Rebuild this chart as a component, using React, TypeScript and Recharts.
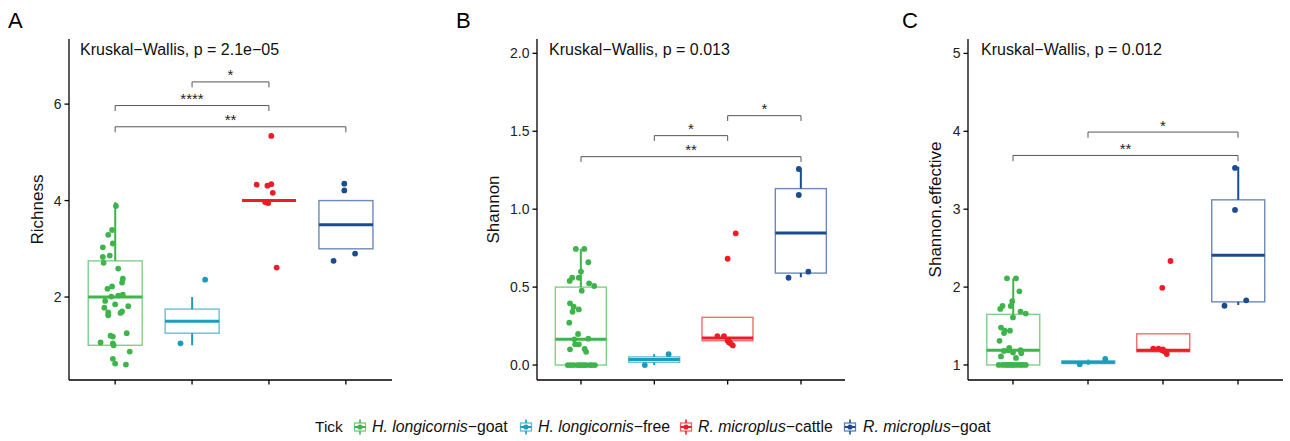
import React from 'react';
import { ComposedChart, Bar, Scatter, Line, XAxis, YAxis } from 'recharts';

const FONT = '"Liberation Sans", Arial, Helvetica, sans-serif';

const groupNames = ['H. longicornis-goat', 'H. longicornis-free', 'R. microplus-cattle', 'R. microplus-goat'];
const legendItalic = ['H. longicornis', 'H. longicornis', 'R. microplus', 'R. microplus'];
const legendSuffix = ['\u2212goat', '\u2212free', '\u2212cattle', '\u2212goat'];
const groupColors = ['#3DB54A', '#1C9CBB', '#EE1D25', '#1B4C90'];

// ---- Richness (A)
const richLo = [1.0, 1.0, 4.0, 3.0];
const richQ1 = [1.0, 1.25, 4.0, 3.0];
const richMed = [2.0, 1.5, 4.0, 3.5];
const richQ3 = [2.75, 1.75, 4.0, 4.0];
const richHi = [3.97, 2.0, 4.0, 4.0];
const richGoat = [[1.01, 3.89], [0.96, 3.39], [0.91, 3.29], [0.97, 3.11], [0.84, 3.03], [0.84, 2.83], [0.93, 2.86], [0.85, 2.71], [1.04, 2.59], [1.10, 2.38], [1.09, 2.30], [0.96, 2.22], [0.90, 2.17], [0.95, 2.01], [1.04, 2.03], [1.10, 2.05], [0.87, 1.92], [1.00, 1.85], [1.17, 1.81], [0.86, 1.78], [1.09, 1.70], [1.07, 1.67], [0.91, 1.68], [0.91, 1.62], [0.94, 1.20], [0.97, 1.18], [1.15, 1.25], [0.81, 1.06], [0.97, 1.04], [0.98, 1.00], [1.19, 0.87], [0.97, 0.72], [1.00, 0.62], [1.14, 0.60]];
const richFree = [[2.17, 2.36], [1.85, 1.04]];
const richCattle = [[3.03, 5.34], [2.84, 4.33], [2.98, 4.31], [3.03, 4.34], [3.05, 4.16], [2.95, 3.97], [2.99, 3.95], [3.10, 2.61]];
const richRGoat = [[3.98, 4.35], [3.98, 4.21], [3.84, 2.75], [4.12, 2.90]];
const richTicks = [2, 4, 6];
const richBrackets = [
  { from: 2, to: 3, y: 6.46, label: '*' },
  { from: 1, to: 3, y: 5.97, label: '****' },
  { from: 1, to: 4, y: 5.53, label: '**' },
];

// ---- Shannon (B)
const shanLo = [0.0, 0.0, 0.13, 0.563];
const shanQ1 = [0.0, 0.0175, 0.156, 0.59];
const shanMed = [0.165, 0.035, 0.173, 0.847];
const shanQ3 = [0.5, 0.0525, 0.306, 1.132];
const shanHi = [0.745, 0.07, 0.306, 1.262];
const shanGoat = [[0.93, 0.745], [1.045, 0.745], [1.10, 0.66], [1.00, 0.60], [0.845, 0.54], [0.88, 0.56], [0.97, 0.56], [1.11, 0.524], [1.18, 0.507], [1.01, 0.477], [0.85, 0.396], [0.90, 0.374], [0.885, 0.342], [0.97, 0.357], [0.84, 0.272], [0.96, 0.199], [0.91, 0.165], [1.10, 0.169], [0.92, 0.133], [0.97, 0.133], [0.85, 0.101], [1.05, 0.103], [1.07, 0.085], [0.82, 0], [0.86, 0], [0.90, 0], [0.95, 0], [0.98, 0], [1.01, 0], [1.04, 0], [1.07, 0], [1.12, 0], [1.15, 0], [1.19, 0]];
const shanFree = [[2.195, 0.07], [1.87, 0.0]];
const shanCattle = [[2.86, 0.186], [2.95, 0.186], [3.0, 0.156], [3.04, 0.139], [3.07, 0.126], [3.02, 0.15], [3.11, 0.845], [3.0, 0.682]];
const shanRGoat = [[3.97, 1.258], [3.97, 1.091], [4.10, 0.599], [3.83, 0.56]];
const shanTicks = [0, 0.5, 1, 1.5, 2];
const shanBrackets = [
  { from: 3, to: 4, y: 1.6, label: '*' },
  { from: 2, to: 3, y: 1.472, label: '*' },
  { from: 1, to: 4, y: 1.337, label: '**' },
];

// ---- Shannon.effective (C)
const effLo = [1.0, 1.0, 1.14, 1.77];
const effQ1 = [1.0, 1.0175, 1.17, 1.81];
const effMed = [1.19, 1.035, 1.19, 2.41];
const effQ3 = [1.65, 1.0525, 1.40, 3.12];
const effHi = [2.11, 1.07, 1.40, 3.545];
const effGoat = [[0.92, 2.113], [1.04, 2.113], [1.085, 1.946], [0.99, 1.82], [0.97, 1.757], [0.86, 1.757], [0.83, 1.72], [1.10, 1.685], [1.17, 1.66], [1.0, 1.61], [0.84, 1.48], [0.89, 1.44], [0.96, 1.44], [0.88, 1.41], [0.82, 1.31], [0.95, 1.22], [0.88, 1.18], [1.0, 1.16], [1.10, 1.19], [1.11, 1.15], [0.84, 1.11], [1.04, 1.09], [0.94, 1.19], [0.81, 1], [0.86, 1], [0.90, 1], [0.93, 1], [0.96, 1], [0.99, 1], [1.02, 1], [1.06, 1], [1.10, 1], [1.13, 1], [1.17, 1]];
const effFree = [[1.89, 1.01], [2.23, 1.077]];
const effCattle = [[2.87, 1.21], [2.94, 1.21], [2.99, 1.19], [3.04, 1.17], [3.05, 1.14], [3.0, 1.2], [2.99, 1.99], [3.10, 2.335]];
const effRGoat = [[3.96, 3.53], [3.96, 2.99], [4.11, 1.83], [3.82, 1.76]];
const effTicks = [1, 2, 3, 4, 5];
const effBrackets = [
  { from: 2, to: 4, y: 3.99, label: '*' },
  { from: 1, to: 4, y: 3.69, label: '**' },
];

const catTicks = [1, 2, 3, 4];

function BoxShape(props: any) {
  const { x, y, width, height, payload } = props;
  if (x == null || y == null || !payload) return null;
  const top = Math.min(y, y + (height || 0));
  const bot = Math.max(y, y + (height || 0));
  const span = payload.hi - payload.lo;
  const px = (v: number) => (span === 0 ? top : top + ((bot - top) * (payload.hi - v)) / span);
  const cx = x + width / 2;
  const c = payload.color;
  const yq1 = px(payload.q1);
  const yq3 = px(payload.q3);
  const ym = px(payload.med);
  return (
    <g>
      <line x1={cx} x2={cx} y1={px(payload.hi)} y2={yq3} stroke={c} strokeWidth={2} />
      <line x1={cx} x2={cx} y1={yq1} y2={px(payload.lo)} stroke={c} strokeWidth={2} />
      <rect x={x} y={yq3} width={width} height={Math.max(0, yq1 - yq3)} fill="none" stroke={c} strokeOpacity={0.65} strokeWidth={1.4} />
      <line x1={x} x2={x + width} y1={ym} y2={ym} stroke={c} strokeWidth={3} />
    </g>
  );
}

const makeDot = (color: string) => (p: any) =>
  p.cx == null ? null : <circle cx={p.cx} cy={p.cy} r={2.9} fill={color} />;

const StarShape = (p: any) =>
  p.cx == null ? null : (
    <text x={p.cx} y={p.cy - 1.5} textAnchor="middle" fontSize={15} fill="#222" fontFamily={FONT}>
      {p.payload.label}
    </text>
  );

type PanelProps = {
  left: number;
  width: number;
  yAxisWidth: number;
  marginRight: number;
  domain: [number, number];
  ticks: number[];
  fmt: (v: number) => string;
  lo: number[]; q1: number[]; med: number[]; q3: number[]; hi: number[];
  pts: number[][][];
  brackets: { from: number; to: number; y: number; label: string }[];
  drop: number;
};

function Panel(p: PanelProps) {
  const H = 400;
  const plotW = p.width - p.yAxisWidth - p.marginRight;
  const pad = plotW / 42;
  const rows = groupNames.map((name, i) => ({
    name, lo: p.lo[i], q1: p.q1[i], med: p.med[i], q3: p.q3[i], hi: p.hi[i], color: groupColors[i],
  }));
  const starData = p.brackets.map((b) => ({ x: (b.from + b.to) / 2, y: b.y, label: b.label }));
  return (
    <div style={{ position: 'absolute', left: p.left, top: 0, width: p.width, height: H }}>
      <ComposedChart width={p.width} height={H} data={rows} barCategoryGap="15%"
        margin={{ top: 39, right: p.marginRight, bottom: 0, left: 0 }}>
        <XAxis xAxisId="num" dataKey="x" type="number" domain={[0.4, 4.6]} ticks={catTicks}
          allowDataOverflow height={20} tickSize={4.5} tickFormatter={() => ''}
          axisLine={{ stroke: '#000', strokeWidth: 1.3 }} tickLine={{ stroke: '#000', strokeWidth: 1.3 }} />
        <XAxis xAxisId="cat" dataKey="name" type="category" hide height={0} padding={{ left: pad, right: pad }} />
        <YAxis type="number" domain={p.domain} ticks={p.ticks} allowDataOverflow width={p.yAxisWidth}
          tickSize={4.5} tickMargin={3} tickFormatter={p.fmt}
          tick={{ fontSize: 14, fill: '#222', fontFamily: FONT }}
          axisLine={{ stroke: '#000', strokeWidth: 1.3 }} tickLine={{ stroke: '#000', strokeWidth: 1.3 }} />
        <Bar xAxisId="cat" dataKey={(d: any) => [d.lo, d.hi]} shape={BoxShape} isAnimationActive={false} />
        {p.pts.map((g, gi) => (
          <Scatter key={'s' + gi} xAxisId="num" data={g.map(([x, y]) => ({ x, y }))} dataKey="y"
            shape={makeDot(groupColors[gi])} isAnimationActive={false} />
        ))}
        {p.brackets.map((b, bi) => (
          <Line key={'b' + bi} xAxisId="num" type="linear" dataKey="y" dot={false} activeDot={false}
            stroke="#555" strokeWidth={1} isAnimationActive={false}
            data={[
              { x: b.from, y: b.y - p.drop },
              { x: b.from, y: b.y },
              { x: b.to, y: b.y },
              { x: b.to, y: b.y - p.drop },
            ]} />
        ))}
        <Scatter xAxisId="num" data={starData} dataKey="y" shape={StarShape} isAnimationActive={false} />
      </ComposedChart>
    </div>
  );
}

function LegendIcon({ color }: { color: string }) {
  return (
    <svg width={16} height={16} style={{ display: 'block' }}>
      <line x1={8} x2={8} y1={0.5} y2={15.5} stroke={color} strokeWidth={1.6} />
      <rect x={2.5} y={4} width={11} height={8} fill="#fff" stroke={color} strokeOpacity={0.7} strokeWidth={1.3} />
      <line x1={2.5} x2={13.5} y1={8} y2={8} stroke={color} strokeWidth={2} />
      <circle cx={8} cy={8} r={2.6} fill={color} />
    </svg>
  );
}

const legendIconX = [352, 518, 678, 842];
const legendTextX = [372, 538, 698, 863];

const fmtInt = (v: number) => String(v);
const fmt1 = (v: number) => v.toFixed(1);

export default function App() {
  return (
    <div style={{ position: 'absolute', left: 0, top: 0, width: 1290, height: 441, background: '#fff', fontFamily: FONT, overflow: 'hidden' }}>
      <Panel left={0} width={430} yAxisWidth={69} marginRight={38} domain={[0.28, 7.35]} ticks={richTicks} fmt={fmtInt}
        lo={richLo} q1={richQ1} med={richMed} q3={richQ3} hi={richHi}
        pts={[richGoat, richFree, richCattle, richRGoat]} brackets={richBrackets} drop={0.114} />
      <Panel left={440} width={420} yAxisWidth={97} marginRight={15} domain={[-0.096, 2.092]} ticks={shanTicks} fmt={fmt1}
        lo={shanLo} q1={shanQ1} med={shanMed} q3={shanQ3} hi={shanHi}
        pts={[shanGoat, shanFree, shanCattle, shanRGoat]} brackets={shanBrackets} drop={0.034} />
      <Panel left={880} width={410} yAxisWidth={88} marginRight={7} domain={[0.807, 5.185]} ticks={effTicks} fmt={fmtInt}
        lo={effLo} q1={effQ1} med={effMed} q3={effQ3} hi={effHi}
        pts={[effGoat, effFree, effCattle, effRGoat]} brackets={effBrackets} drop={0.073} />
      <svg width={1290} height={441} style={{ position: 'absolute', left: 0, top: 0, pointerEvents: 'none' }}>
        <g fontFamily={FONT} fill="#000">
          <text x={8} y={28} fontSize={22}>A</text>
          <text x={456} y={28} fontSize={22}>B</text>
          <text x={902} y={28} fontSize={22}>C</text>
          <text x={80} y={55} fontSize={16} fill="#111">Kruskal{'\u2212'}Wallis, p = 2.1e{'\u2212'}05</text>
          <text x={549} y={55} fontSize={16} fill="#111">Kruskal{'\u2212'}Wallis, p = 0.013</text>
          <text x={981} y={55} fontSize={16} fill="#111">Kruskal{'\u2212'}Wallis, p = 0.012</text>
          <text transform="translate(43,209.5) rotate(-90)" textAnchor="middle" fontSize={17} fill="#111">Richness</text>
          <text transform="translate(499,209.5) rotate(-90)" textAnchor="middle" fontSize={17} fill="#111">Shannon</text>
          <text transform="translate(941,209.5) rotate(-90)" textAnchor="middle" fontSize={17} fill="#111">Shannon.effective</text>
          <text x={315} y={432} fontSize={15.5} fill="#111">Tick</text>
          {legendTextX.map((tx, i) => (
            <text key={i} x={tx} y={432} fontSize={15.8} fill="#111">
              <tspan fontStyle="italic">{legendItalic[i]}</tspan>
              <tspan>{legendSuffix[i]}</tspan>
            </text>
          ))}
        </g>
      </svg>
      {legendIconX.map((ix, i) => (
        <div key={i} style={{ position: 'absolute', left: ix, top: 419 }}>
          <LegendIcon color={groupColors[i]} />
        </div>
      ))}
    </div>
  );
}
